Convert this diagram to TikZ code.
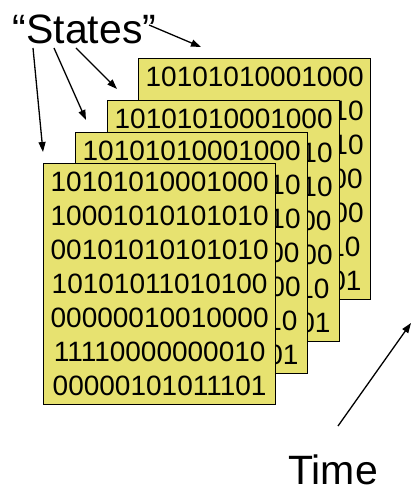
\documentclass[tikz,border=0pt]{standalone}
\usepackage{fontspec}
\setmainfont{Liberation Sans}
\usetikzlibrary{arrows.meta}
\definecolor{frameyellow}{RGB}{231,226,112}
\tikzset{
  stateframe/.style={draw=black, line width=1.3pt, fill=frameyellow, rectangle,
    minimum width=232pt, minimum height=241pt, inner sep=0pt, anchor=north west,
    align=center, font=\fontsize{28}{34}\selectfont},
  biglabel/.style={inner sep=0pt, font=\fontsize{41}{48}\selectfont},
  pointer/.style={line width=1.3pt, -{Triangle[length=10pt,width=7pt]}}
}
\newcommand{\statebits}{10101010001000\\10001010101010\\00101010101010\\10101011010100\\00000010010000\\11110000000010\\00000101011101}
\begin{document}
\begin{tikzpicture}[x=1pt,y=-1pt]
\useasboundingbox (0,0) rectangle (411,486);
\node[stateframe] (f4) at (138,58) {\statebits};
\node[stateframe] (f3) at (107,100) {\statebits};
\node[stateframe] (f2) at (75,132) {\statebits};
\node[stateframe] (f1) at (43,163) {\statebits};
\node[biglabel] (st) at (84.5,29) {“States”};
\node[biglabel, anchor=base] (tm) at (333,484) {Time};
\coordinate (a1s) at (149,25);
\coordinate (a1e) at (201,47);
\coordinate (a2s) at (76,48);
\coordinate (a2e) at (117,89);
\coordinate (a3s) at (54,48);
\coordinate (a3e) at (86,120);
\coordinate (a4s) at (33,48);
\coordinate (a4e) at (43,152);
\coordinate (ts) at (338,426);
\coordinate (te) at (411,323);
\draw[pointer] (a1s) -- (a1e);
\draw[pointer] (a2s) -- (a2e);
\draw[pointer] (a3s) -- (a3e);
\draw[pointer] (a4s) -- (a4e);
\draw[pointer] (ts) -- (te);
\end{tikzpicture}
\end{document}
